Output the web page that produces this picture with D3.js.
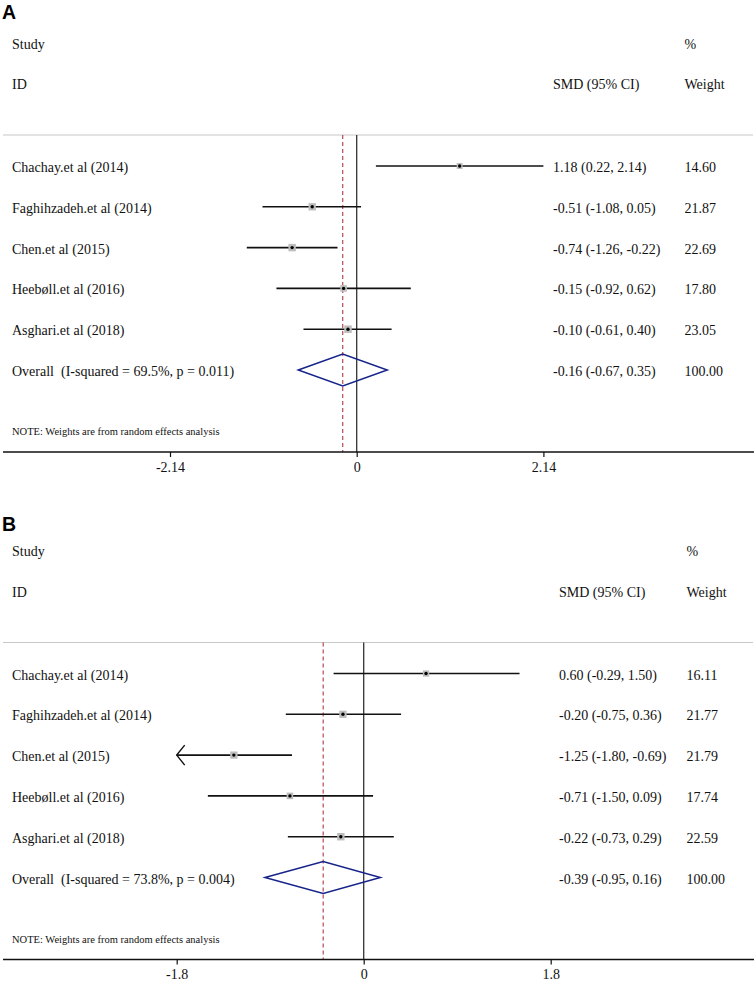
<!DOCTYPE html>
<html lang="en">

<head>
    <meta charset="utf-8">
    <script src="https://cdnjs.cloudflare.com/ajax/libs/d3/7.8.5/d3.min.js"></script>
    <style>
        body {
            margin: 0;
            background: #fff;
        }
        svg text {
            font-family: 'Liberation Serif', 'Times New Roman', serif;
            font-size: 14px;
            fill: #111;
        }
        svg text.letter {
            font-family: 'Liberation Sans', Arial, sans-serif;
            font-weight: bold;
            font-size: 19.5px;
            fill: #000;
        }
        svg text.note {
            font-size: 10.5px;
        }
    </style>
</head>

<body>
    <svg></svg>
    <script>
        // study labels are the same in both panels
        const studies = ['Chachay.et al (2014)', 'Faghihzadeh.et al (2014)', 'Chen.et al (2015)',
            'Heebøll.et al (2016)', 'Asghari.et al (2018)']

        // panel A
        const smdA = [1.18, -0.51, -0.74, -0.15, -0.10]
        const lowA = [0.22, -1.08, -1.26, -0.92, -0.61]
        const highA = [2.14, 0.05, -0.22, 0.62, 0.40]
        const weightA = [14.60, 21.87, 22.69, 17.80, 23.05]
        const overallA = [-0.16, -0.67, 0.35]
        const hetA = ['69.5%', '0.011']
        const ticksA = [-2.14, 0, 2.14]
        const tickLabelsA = ['-2.14', '0', '2.14']

        // panel B
        const smdB = [0.60, -0.20, -1.25, -0.71, -0.22]
        const lowB = [-0.29, -0.75, -1.80, -1.50, -0.73]
        const highB = [1.50, 0.36, -0.69, 0.09, 0.29]
        const weightB = [16.11, 21.77, 21.79, 17.74, 22.59]
        const overallB = [-0.39, -0.95, 0.16]
        const hetB = ['73.8%', '0.004']
        const ticksB = [-1.8, 0, 1.8]
        const tickLabelsB = ['-1.8', '0', '1.8']

        const w = 754,
            h = 981

        const svg = d3.select('svg')
            .attr('width', w)
            .attr('height', h)

        const fmt = (v) => v.toFixed(2)

        function drawPanel(p) {
            const g = svg.append('g')
                .attr('transform', 'translate(0,' + p.top + ')')

            const sepY = 135,
                axisY = 452,
                noteY = 435

            const x = d3.scaleLinear()
                .domain([p.ticks[0], p.ticks[p.ticks.length - 1]])
                .range(p.range)

            // row 0..4 studies, row 5 overall
            const y = d3.scaleLinear()
                .domain([0, 5])
                .range([166, 370])

            const rows = studies.map((s, i) => ({
                name: s, est: p.smd[i], lo: p.low[i], hi: p.high[i], wt: p.weight[i], i: i
            }))

            g.append('text').attr('class', 'letter')
                .attr('x', 2).attr('y', p.letterY)
                .text(p.letter)

            // headers
            g.append('text').attr('x', 12).attr('y', 48.5).text('Study')
            g.append('text').attr('x', 12).attr('y', 89).text('ID')
            g.append('text').attr('x', p.smdX).attr('y', 89).text('SMD (95% CI)')
            g.append('text').attr('x', p.wX).attr('y', 48.5).text('%')
            g.append('text').attr('x', p.wX).attr('y', 89).text('Weight')

            g.append('line')
                .attr('x1', 3).attr('x2', 753)
                .attr('y1', sepY).attr('y2', sepY)
                .attr('stroke', '#c8c8c8').attr('stroke-width', 1.2)

            // no-effect line
            g.append('line')
                .attr('x1', x(0)).attr('x2', x(0))
                .attr('y1', sepY).attr('y2', axisY)
                .attr('stroke', '#333').attr('stroke-width', 1.3)

            // overall estimate line
            g.append('line')
                .attr('x1', x(p.overall[0])).attr('x2', x(p.overall[0]))
                .attr('y1', sepY).attr('y2', axisY)
                .attr('stroke', '#b23a3f').attr('stroke-width', 1.1)
                .attr('stroke-dasharray', '4,3')

            const xmin = x.domain()[0],
                xmax = x.domain()[1]

            g.selectAll('.ci')
                .data(rows)
                .enter()
                .append('line')
                .attr('class', 'ci')
                .attr('x1', (d) => x(Math.max(d.lo, xmin)))
                .attr('x2', (d) => x(Math.min(d.hi, xmax)))
                .attr('y1', (d) => y(d.i))
                .attr('y2', (d) => y(d.i))
                .attr('stroke', '#111').attr('stroke-width', 1.6)

            // arrow where the interval runs off the left of the scale
            g.selectAll('.arrow')
                .data(rows.filter((d) => d.lo <= xmin))
                .enter()
                .append('path')
                .attr('class', 'arrow')
                .attr('d', (d) => 'M' + (x(xmin) + 8) + ',' + (y(d.i) - 10) + 'L' + x(xmin) + ',' + y(d.i) +
                    'L' + (x(xmin) + 8) + ',' + (y(d.i) + 10))
                .attr('fill', 'none')
                .attr('stroke', '#111').attr('stroke-width', 1.4)

            g.selectAll('.box')
                .data(rows)
                .enter()
                .append('rect')
                .attr('class', 'box')
                .attr('x', (d) => x(d.est) - 0.78 * Math.sqrt(d.wt))
                .attr('y', (d) => y(d.i) - 0.78 * Math.sqrt(d.wt))
                .attr('width', (d) => 1.56 * Math.sqrt(d.wt))
                .attr('height', (d) => 1.56 * Math.sqrt(d.wt))
                .attr('fill', '#bdbdbd')

            g.selectAll('.dot')
                .data(rows)
                .enter()
                .append('circle')
                .attr('class', 'dot')
                .attr('cx', (d) => x(d.est))
                .attr('cy', (d) => y(d.i))
                .attr('r', 1.7)
                .attr('fill', '#000')

            const o = p.overall,
                yc = y(5)
            g.append('path')
                .attr('d', 'M' + x(o[1]) + ',' + yc + 'L' + x(o[0]) + ',' + (yc - 16) +
                    'L' + x(o[2]) + ',' + yc + 'L' + x(o[0]) + ',' + (yc + 16) + 'Z')
                .attr('fill', 'none')
                .attr('stroke', '#16238a').attr('stroke-width', 1.5)

            // text columns
            g.selectAll('.name')
                .data(rows)
                .enter()
                .append('text')
                .attr('class', 'name')
                .attr('x', 12)
                .attr('y', (d) => y(d.i) + 6)
                .text((d) => d.name)

            g.selectAll('.est')
                .data(rows)
                .enter()
                .append('text')
                .attr('class', 'est')
                .attr('x', p.smdX)
                .attr('y', (d) => y(d.i) + 6)
                .text((d) => fmt(d.est) + ' (' + fmt(d.lo) + ', ' + fmt(d.hi) + ')')

            g.selectAll('.wt')
                .data(rows)
                .enter()
                .append('text')
                .attr('class', 'wt')
                .attr('x', p.wX)
                .attr('y', (d) => y(d.i) + 6)
                .text((d) => fmt(d.wt))

            g.append('text')
                .attr('x', 12).attr('y', yc + 6)
                .style('white-space', 'pre')
                .text('Overall  (I-squared = ' + p.het[0] + ', p = ' + p.het[1] + ')')
            g.append('text')
                .attr('x', p.smdX).attr('y', yc + 6)
                .text(fmt(o[0]) + ' (' + fmt(o[1]) + ', ' + fmt(o[2]) + ')')
            g.append('text')
                .attr('x', p.wX).attr('y', yc + 6)
                .text('100.00')

            g.append('text').attr('class', 'note')
                .attr('x', 12).attr('y', noteY)
                .text('NOTE: Weights are from random effects analysis')

            // x axis
            g.append('line')
                .attr('x1', 3).attr('x2', 754)
                .attr('y1', axisY).attr('y2', axisY)
                .attr('stroke', '#111').attr('stroke-width', 1.3)

            const xAxis = d3.axisBottom(x)
                .tickValues(p.ticks)
                .tickFormat((d, i) => p.tickLabels[i])
                .tickSize(5)
                .tickSizeOuter(0)
                .tickPadding(5)

            g.append('g')
                .attr('transform', 'translate(0,' + axisY + ')')
                .call(xAxis)
                .call((a) => a.select('.domain').remove())
                .call((a) => a.selectAll('line').attr('stroke', '#111').attr('stroke-width', 1.2))
        }

        drawPanel({
            top: 0, letter: 'A', letterY: 18.5,
            smd: smdA, low: lowA, high: highA, weight: weightA,
            overall: overallA, het: hetA, ticks: ticksA, tickLabels: tickLabelsA,
            range: [170, 543.4], smdX: 553, wX: 684.5
        })

        drawPanel({
            top: 507.5, letter: 'B', letterY: 23.2,
            smd: smdB, low: lowB, high: highB, weight: weightB,
            overall: overallB, het: hetB, ticks: ticksB, tickLabels: tickLabelsB,
            range: [176.7, 550.7], smdX: 559, wX: 686.5
        })
    </script>
</body>

</html>
